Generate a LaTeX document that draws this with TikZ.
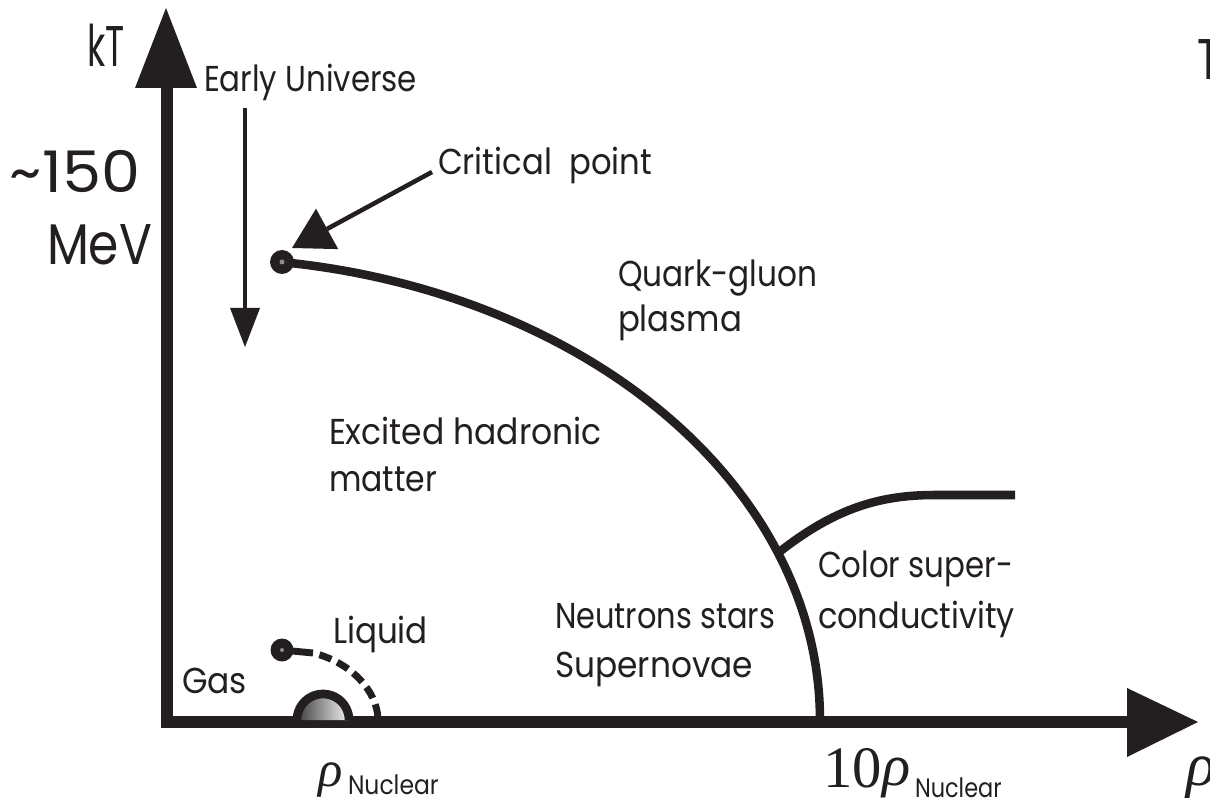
\documentclass[tikz,border=0pt]{standalone}
\usepackage[no-math]{fontspec}
\setmainfont{Poppins}
\newfontfamily\tms{Liberation Serif}
\usetikzlibrary{arrows.meta}
\definecolor{ink}{HTML}{231F20}
\newcommand{\fw}[2]{\resizebox{#1pt}{\height}{#2}}
\begin{document}
\begin{tikzpicture}[x=0.75pt,y=-0.75pt,
  lbl/.style={anchor=base west,inner sep=0pt,outer sep=0pt,text=ink,font=\fontsize{27}{30}\selectfont},
  big/.style={anchor=base west,inner sep=0pt,outer sep=0pt,text=ink,font=\fontsize{43}{46}\selectfont},
  sub/.style={anchor=base west,inner sep=0pt,outer sep=0pt,text=ink,font=\fontsize{20}{22}\selectfont},
  greek/.style={anchor=base west,inner sep=0pt,outer sep=0pt,text=ink},
  axisline/.style={line width=9pt,draw=ink},
  phaseline/.style={line width=6.4pt,draw=ink},
  pointer/.style={line width=3.4pt,draw=ink},
  tipfill/.style={fill=ink}]
\useasboundingbox (0,0) rectangle (1210,798);

% ---------- axes ----------
\coordinate (O) at (167,722);
\coordinate (Ybase) at (167,86);
\coordinate (Ytip) at (166,8);
\coordinate (Xbase) at (1130,722);
\coordinate (Xtip) at (1198,722);
\draw[axisline,line join=miter] (Ybase) -- (O) -- (Xbase);
\fill[tipfill] (Ytip) -- (197,88) -- (135,88) -- cycle;
\fill[tipfill] (Xtip) -- (1127,757) -- (1127,688) -- cycle;

% ---------- phase boundaries ----------
\coordinate (CP) at (282,262);
\draw[phaseline] plot[domain=82.4:0,samples=90] ({200+620*cos(\x)},{720-462*sin(\x)});
\coordinate (J) at (778,553);
\coordinate (Cend) at (1015,495);
\draw[phaseline] (J) .. controls (835,508) and (880,495) .. (935,495) -- (Cend);

% critical point
\fill[ink] (CP) circle[radius=12];
\fill[black!45] (CP) circle[radius=2.5];

% ---------- liquid-gas ----------
\coordinate (LG) at (282,650);
\coordinate (LGa) at (313,653);
\coordinate (LGb) at (378,719);
\shade[left color=black!75,right color=black!5] plot[domain=180:0,samples=40] ({323+26*cos(\x)},{720-26*sin(\x)}) -- cycle;
\draw[line width=6.5pt,ink] plot[domain=180:0,samples=40] ({323+26*cos(\x)},{720-26*sin(\x)});
\draw[line width=5.2pt,ink] (LG) -- (LGa);
\draw[line width=5.2pt,ink,dash pattern=on 9.5pt off 5pt,dash phase=9.5pt] (LGa) .. controls (350,662) and (377,690) .. (LGb);
\fill[ink] (LG) circle[radius=11.5];
\fill[black!45] (LG) circle[radius=2];

% ---------- pointer arrows ----------
\coordinate (EUs) at (245,108);
\coordinate (EUb) at (245,310);
\coordinate (EUt) at (245,347);
\draw[pointer] (EUs) -- (EUb);
\fill[tipfill] (EUt) -- (230,308) -- (260,308) -- cycle;

\coordinate (CPs) at (432,172);
\coordinate (CPb) at (327,229);
\coordinate (CPt) at (292,248);
\draw[pointer] (CPs) -- (CPb);
\fill[tipfill] (CPt) -- (316,208.7) -- (338.2,249.1) -- cycle;

% ---------- labels ----------
\node[big] (kT) at (87,67) {\fw{28}{kT}};
\node[big] (t150) at (10,193) {\fw{97.5}{\symbol{126}150}};
\node[big] (mev) at (47,265) {\fw{78.75}{MeV}};
\node[big,anchor=base] (Tcut) at (1209,80) {\fw{17}{T}};

\node[lbl] (eu) at (204,92) {\fw{159.75}{Early Universe}};
\node[lbl] (crit) at (438,175) {\fw{160.5}{Critical\ \ point}};
\node[lbl] (qgp1) at (618,287) {\fw{149.25}{Quark-gluon}};
\node[lbl] (qgp2) at (618,332) {\fw{93}{plasma}};
\node[lbl] (ehm1) at (329,445) {\fw{204.75}{Excited hadronic}};
\node[lbl] (ehm2) at (329,492) {\fw{81}{matter}};
\node[lbl] (liq) at (333,643) {\fw{71.25}{Liquid}};
\node[lbl] (gas) at (182,693) {\fw{48.75}{Gas}};
\node[lbl] (ns1) at (555,628) {\fw{165}{Neutrons stars}};
\node[lbl] (ns2) at (555,677) {\fw{148.5}{Supernovae}};
\node[lbl] (cs1) at (818,577) {\fw{146.25}{Color super-}};
\node[lbl] (cs2) at (818,628) {\fw{147.75}{conductivity}};

% density labels
\node[greek] (rho1) at (318,786) {\fontsize{38}{38}\selectfont\tms\itshape ρ};
\node[sub] (nuc1) at (348,794) {\fw{68}{Nuclear}};
\node[greek] (ten) at (823,787) {\fontsize{44}{44}\selectfont\tms 10};
\node[greek] (rho2) at (882,785) {\fontsize{44}{44}\selectfont\tms\itshape ρ};
\node[sub] (nuc2) at (915,797) {\fw{65}{Nuclear}};
\node[greek] (rho3) at (1186,785) {\fontsize{46}{46}\selectfont\tms\itshape ρ};
\end{tikzpicture}
\end{document}
